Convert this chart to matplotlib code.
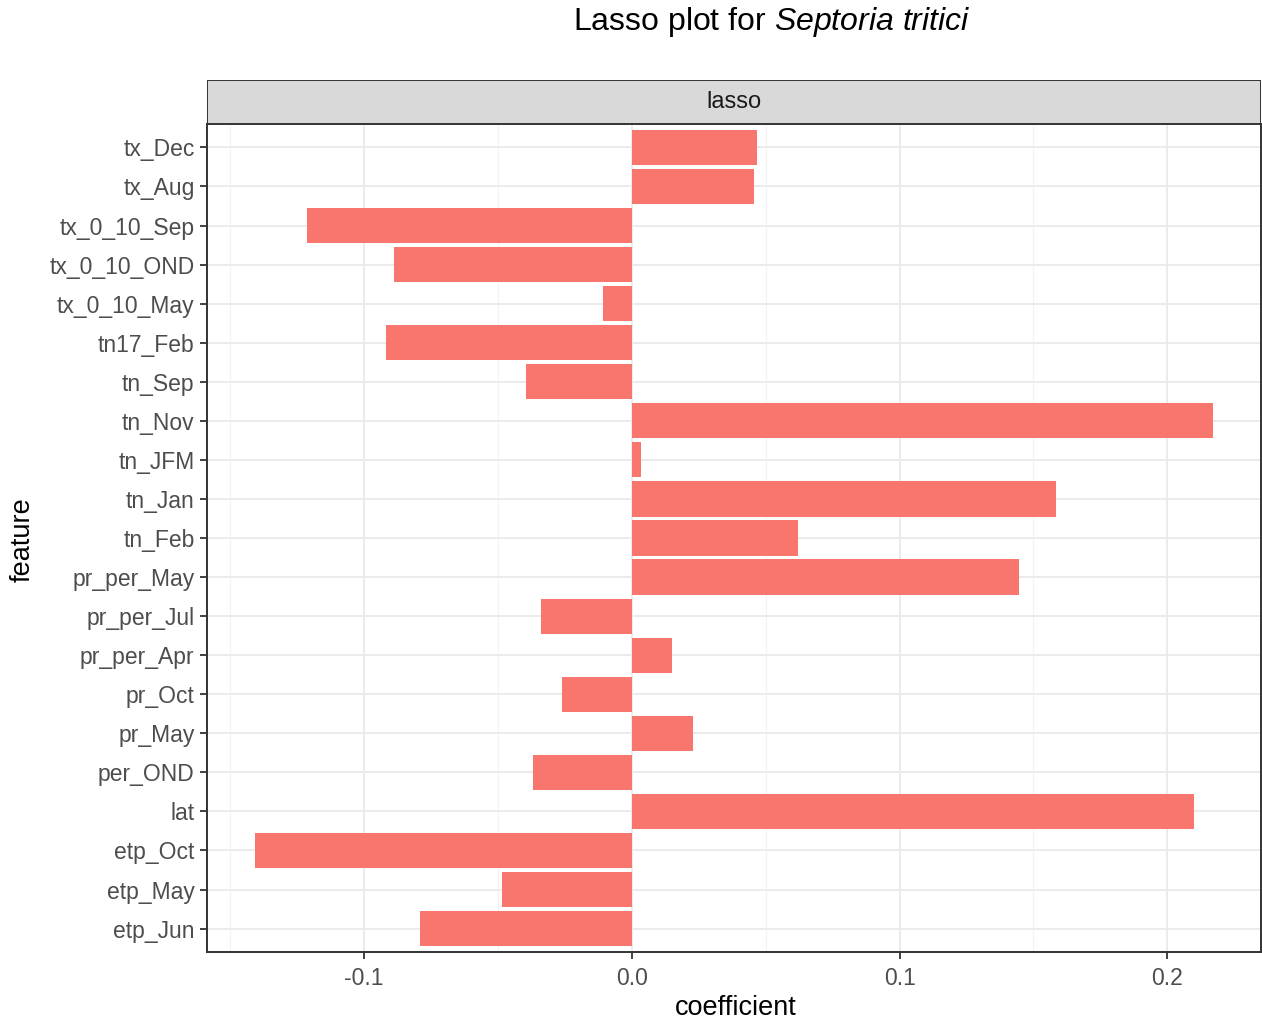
import numpy as np
import matplotlib.pyplot as plt
from matplotlib.patches import Rectangle

features = ["tx_Dec", "tx_Aug", "tx_0_10_Sep", "tx_0_10_OND", "tx_0_10_May",
            "tn17_Feb", "tn_Sep", "tn_Nov", "tn_JFM", "tn_Jan", "tn_Feb",
            "pr_per_May", "pr_per_Jul", "pr_per_Apr", "pr_Oct", "pr_May",
            "per_OND", "lat", "etp_Oct", "etp_May", "etp_Jun"]
coefficient = [0.0469, 0.0458, -0.1214, -0.0890, -0.0108,
               -0.0920, -0.0395, 0.2171, 0.0034, 0.1583, 0.0622,
               0.1445, -0.0339, 0.0149, -0.0261, 0.0227,
               -0.0369, 0.2101, -0.1408, -0.0484, -0.0793]
xticks = [-0.1, 0.0, 0.1, 0.2]
xtick_labels = ["-0.1", "0.0", "0.1", "0.2"]
minor_ticks = [-0.15, -0.05, 0.05, 0.15]
panel = "lasso"

plt.rcParams['font.family'] = ['Liberation Sans', 'DejaVu Sans']
plt.rcParams['mathtext.fontset'] = 'custom'
plt.rcParams['mathtext.rm'] = 'Liberation Sans'
plt.rcParams['mathtext.it'] = 'Liberation Sans:italic'

W, H = 1262, 1023
fig = plt.figure(figsize=(W / 100, H / 100), dpi=100)
left, right, top, bottom = 207, 1261, 124, 952
ax = fig.add_axes([left / W, 1 - bottom / H, (right - left) / W, (bottom - top) / H])

n = len(features)
ypos = np.arange(n)[::-1]  # first feature at the top
ax.barh(ypos, coefficient, height=0.9, color="#F8766D", edgecolor="none", zorder=3)

span = max(coefficient) - min(coefficient)
ax.set_xlim(min(coefficient) - 0.05 * span, max(coefficient) + 0.05 * span)
ax.set_ylim(-0.6, n - 0.4)

# theme_bw grid
for v in minor_ticks:
    ax.axvline(v, color="#F2F2F2", lw=0.8, zorder=0)
for v in xticks:
    ax.axvline(v, color="#EBEBEB", lw=1.4, zorder=1)
for y in ypos:
    ax.axhline(y, color="#EBEBEB", lw=1.4, zorder=1)

ax.set_xticks(xticks)
ax.set_xticklabels(xtick_labels)
ax.set_yticks(ypos)
ax.set_yticklabels(features)
ax.tick_params(axis="both", length=5, width=1.3, color="#333333", labelcolor="#4D4D4D",
               labelsize=16.5)
ax.tick_params(axis="x", pad=6)
ax.tick_params(axis="y", pad=4)
for s in ax.spines.values():
    s.set_color("#333333")
    s.set_linewidth(1.4)

ax.set_xlabel("coefficient", fontsize=19.5, va="center")
ax.set_ylabel("feature", fontsize=19.5, va="center")
ax.xaxis.set_label_coords((736 - left) / (right - left), -(1008 - bottom) / (bottom - top))
ax.yaxis.set_label_coords((23 - left) / (right - left), (bottom - 540) / (bottom - top))

# facet strip
strip = fig.add_axes([left / W, 1 - top / H, (right - left) / W, 44 / H])
strip.add_patch(Rectangle((0, 0), 1, 1, transform=strip.transAxes, facecolor="#D9D9D9",
                          edgecolor="#333333", lw=1.4))
strip.set_xticks([])
strip.set_yticks([])
for s in strip.spines.values():
    s.set_visible(False)
strip.text(0.5, 0.5, panel, ha="center", va="center", fontsize=17, color="#1A1A1A")

fig.text(772 / W, 1 - 22 / H, "Lasso plot for $\\it{Septoria\\ tritici}$", ha="center",
         va="center", fontsize=23)

fig.savefig("out.png", dpi=100)
